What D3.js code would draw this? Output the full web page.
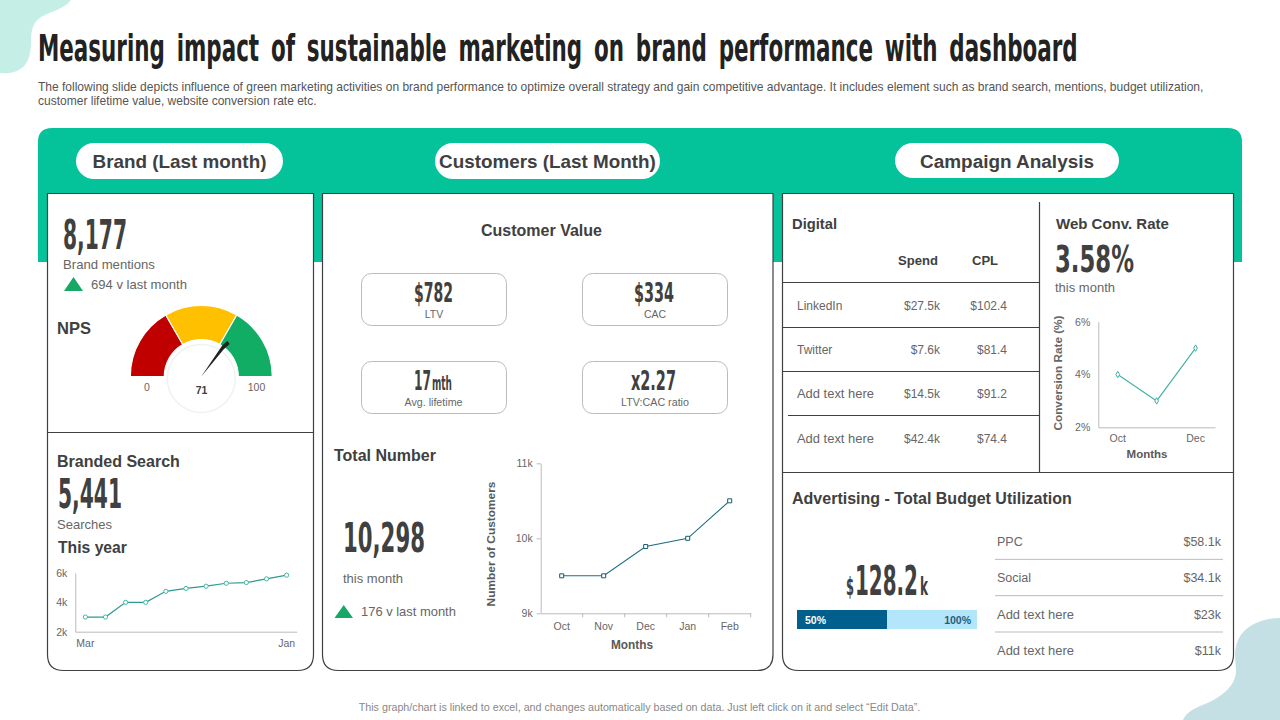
<!doctype html>
<html>
<head>
<meta charset="UTF-8">
<title>Sustainable marketing dashboard</title>
<script src="https://d3js.org/d3.v7.min.js"></script>
<style>
body { margin: 0; background: #fff; }
svg { display: block; }
text { font-family: "Liberation Sans", Arial, sans-serif; }
.axis text { font-family: "Liberation Sans", Arial, sans-serif; font-size: 10.5px; fill: #666; }
.axis path { stroke: #bbb; }
</style>
</head>
<body>
<svg id="chart" width="1280" height="720"></svg>
<script>
// chart data
var searchMonths = ["Mar","Apr","May","Jun","Jul","Aug","Sep","Oct","Nov","Dec","Jan"];
var searchValues = [3000,3000,4000,4000,4750,4950,5100,5300,5350,5600,5850];
var customerMonths = ["Oct","Nov","Dec","Jan","Feb"];
var customerValues = [9500,9500,9890,10000,10500];
var convMonths = ["Oct","Nov","Dec"];
var convValues = [4,3,5];
var gaugeBands = [1,1,1];
var gaugeColors = ["#c00000","#ffc000","#12ad65"];
var npsValue = 71;
var digitalChannels = ["LinkedIn","Twitter","Add text here","Add text here"];
var digitalSpend = ["$27.5k","$7.6k","$14.5k","$42.4k"];
var digitalCpl = ["$102.4","$81.4","$91.2","$74.4"];
var budgetChannels = ["PPC","Social","Add text here","Add text here"];
var budgetSpend = ["$58.1k","$34.1k","$23k","$11k"];
var budgetUsed = 50;
var budgetTotal = 100;

var svg = d3.select("#chart");
var NARROW = '"Liberation Sans Narrow","DejaVu Sans Condensed","Liberation Sans",sans-serif';
var DARK = "#404040", GREY = "#666";

// text helper, len squeezes the string to the width measured on the reference
function txt(x, y, s, o) {
    o = o || {};
    var t = svg.append("text")
        .attr("font-size", o.size || 12)
        .attr("font-weight", o.bold ? "bold" : "normal")
        .attr("fill", o.color || GREY)
        .attr("text-anchor", o.anchor || "start")
        .text(s);
    if (o.narrow) t.style("font-family", NARROW);
    if (o.words) t.style("word-spacing", o.words + "px");
    var tf = "translate(" + x + "," + y + ")";
    if (o.rotate) tf += " rotate(" + o.rotate + ")";
    if (o.len) tf += " scale(" + (o.len / t.node().getComputedTextLength()) + ",1)";
    t.attr("transform", tf);
    return t;
}
function big(x, y, s, len, size, anchor) {
    return txt(x, y, s, {size: size || 40, bold: true, narrow: true, color: DARK, len: len, anchor: anchor});
}
function head(x, y, s, len, size) {
    return txt(x, y, s, {size: size || 16, bold: true, color: DARK, len: len});
}

// background blobs
svg.append("path").attr("fill", "#c5efe6")
    .attr("d", "M0,0 L71,0 C66,8 50,12 41,17 C32,23 31,32 31,42 C31,55 28,68 14,72 C8,74 3,73 0,73 Z");
svg.append("path").attr("fill", "#c5e0e4")
    .attr("d", "M1280,618 C1262,618 1244,626 1238,640 C1233,652 1236,662 1236,672 C1235,686 1222,697 1205,704 C1195,708 1186,712 1183,720 L1280,720 Z");

// title and intro
txt(38, 61, "Measuring impact of sustainable marketing on brand performance with dashboard",
    {size: 38, bold: true, narrow: true, color: "#222", len: 1040, words: 7});
txt(38, 91, "The following slide depicts influence of green marketing activities on brand performance to optimize overall strategy and gain competitive advantage. It includes element such as brand search, mentions, budget utilization,",
    {size: 12, color: "#555", len: 1166});
txt(38, 105, "customer lifetime value, website conversion rate etc.", {size: 12, color: "#555", len: 279});

// green band
svg.append("path").attr("fill", "#04c29a")
    .attr("d", "M38,262 L38,142 Q38,128 52,128 L1228,128 Q1242,128 1242,142 L1242,262 Z");

// pills
var pills = [
    {x: 76, w: 207, h: 36, label: "Brand (Last month)", len: 174},
    {x: 435, w: 225, h: 36, label: "Customers (Last Month)", len: 217},
    {x: 895, w: 224, h: 35, label: "Campaign Analysis", len: 174}
];
pills.forEach(function(p) {
    svg.append("rect").attr("x", p.x).attr("y", 143).attr("width", p.w).attr("height", p.h)
        .attr("rx", 18).attr("fill", "#fff");
    txt(p.x + p.w / 2, 167.5, p.label, {size: 18, bold: true, color: DARK, anchor: "middle", len: p.len});
});

// panels, square on top and rounded below
function panel(x0, x1) {
    var y0 = 193.5, y1 = 670.5, r = 16;
    svg.append("path").attr("fill", "#fff").attr("stroke", DARK).attr("stroke-width", 1.2)
        .attr("d", "M" + x0 + "," + y0 + " L" + x1 + "," + y0 + " L" + x1 + "," + (y1 - r)
            + " Q" + x1 + "," + y1 + " " + (x1 - r) + "," + y1 + " L" + (x0 + r) + "," + y1
            + " Q" + x0 + "," + y1 + " " + x0 + "," + (y1 - r) + " Z");
}
panel(47.5, 313.5);
panel(322.5, 773);
panel(782.5, 1233.5);

function rule(x1, y1, x2, y2, color) {
    svg.append("line").attr("x1", x1).attr("y1", y1).attr("x2", x2).attr("y2", y2)
        .attr("stroke", color || DARK).attr("stroke-width", color ? 1 : 1.2);
}
function triangle(x0, x1, y0, y1) {
    svg.append("path").attr("fill", "#17a865")
        .attr("d", d3.line()([[x0, y1], [(x0 + x1) / 2, y0], [x1, y1]]) + "Z");
}
rule(47.5, 432.5, 313.5, 432.5);

// brand mentions
big(63, 249, "8,177", 64);
txt(63, 269, "Brand mentions", {size: 12.5, len: 92});
triangle(64, 83, 277, 291);
txt(91, 289, "694 v last month", {size: 12, len: 96});

// NPS gauge
head(57, 334, "NPS", 34);
var gaugeX = 201.3, gaugeY = 376.5;
var gaugeArc = d3.arc().innerRadius(37).outerRadius(71);
var pie = d3.pie().sort(null).startAngle(-Math.PI / 2).endAngle(Math.PI / 2);
var gauge = svg.append("g").attr("transform", "translate(" + gaugeX + "," + gaugeY + ")");
gauge.selectAll("path").data(pie(gaugeBands)).enter().append("path")
    .attr("d", gaugeArc)
    .attr("fill", function(d, i) { return gaugeColors[i]; })
    .attr("stroke", "#fff").attr("stroke-width", 1.2);
gauge.append("circle").attr("cy", 2).attr("r", 34).attr("fill", "#fff")
    .attr("stroke", "#f1f1f1").attr("stroke-width", 1.5);
var needleAngle = d3.scaleLinear().domain([0, 100]).range([-90, 90]);
gauge.append("path").attr("fill", "#222")
    .attr("transform", "rotate(" + needleAngle(npsValue) + ")")
    .attr("d", "M0,0 L-2.6,-38 L-1,-44 L2.6,-43 L1,-35 Z");
txt(147, 391, "0", {size: 10.5, anchor: "middle"});
txt(256.5, 391, "100", {size: 10.5, anchor: "middle"});
txt(201.5, 394, "71", {size: 10.5, bold: true, color: DARK, anchor: "middle"});

// branded search
head(57, 466.5, "Branded Search", 123);
big(58, 508, "5,441", 64);
txt(57, 528.5, "Searches", {size: 12.5, len: 55});
head(58, 553, "This year", 69);

var sx = d3.scaleBand().domain(searchMonths).range([75.3, 296.7]);
var sy = d3.scaleLinear().domain([2000, 6000]).range([631.7, 573]);
var kFormat = function(d) { return d / 1000 + "k"; };
svg.append("g").attr("class", "axis").attr("transform", "translate(0,631.7)")
    .call(d3.axisBottom(sx).tickValues(["Mar", "Jan"]).tickSize(0).tickPadding(8));
svg.append("g").attr("class", "axis").attr("transform", "translate(75.3,0)")
    .call(d3.axisLeft(sy).tickValues([2000, 4000, 6000]).tickFormat(kFormat).tickSize(0).tickPadding(8));
var searchLine = d3.line().x(function(d, i) { return sx(searchMonths[i]) + sx.bandwidth() / 2; }).y(function(d) { return sy(d); });
svg.append("path").datum(searchValues).attr("fill", "none").attr("stroke", "#2f9a90").attr("stroke-width", 1.2).attr("d", searchLine);
svg.selectAll(".searchDot").data(searchValues).enter().append("circle")
    .attr("class", "searchDot")
    .attr("cx", function(d, i) { return sx(searchMonths[i]) + sx.bandwidth() / 2; })
    .attr("cy", function(d) { return sy(d); })
    .attr("r", 2.1).attr("fill", "#fff").attr("stroke", "#45b8a5").attr("stroke-width", 1);

// customer value boxes
txt(541.5, 235.5, "Customer Value", {size: 16, bold: true, color: DARK, anchor: "middle", len: 121});
function kpiBox(x, y) {
    svg.append("rect").attr("x", x).attr("y", y).attr("width", 145).attr("height", 52)
        .attr("rx", 10).attr("fill", "#fff").attr("stroke", "#bbb");
}
kpiBox(361.5, 273.5); kpiBox(582.5, 273.5); kpiBox(361.5, 361.5); kpiBox(582.5, 361.5);
big(414, 301.5, "$782", 39, 27);
txt(434, 318, "LTV", {size: 10.5, anchor: "middle"});
big(634, 301.5, "$334", 40, 27);
txt(655, 318, "CAC", {size: 10.5, anchor: "middle"});
big(414, 389.5, "17", 17, 27);
big(432, 389.5, "mth", 20, 19);
txt(433.5, 406, "Avg. lifetime", {size: 10.5, anchor: "middle", len: 58});
big(631, 389.5, "x2.27", 45, 27);
txt(655, 406, "LTV:CAC ratio", {size: 10.5, anchor: "middle", len: 68});

// total number
head(334, 460.5, "Total Number", 102);
big(343, 551.5, "10,298", 82);
txt(343, 582.5, "this month", {size: 12.5, len: 60});
triangle(334.5, 353, 605, 618);
txt(361, 616, "176 v last month", {size: 12, len: 95});

var cx = d3.scaleBand().domain(customerMonths).range([540.7, 750.7]);
var cy = d3.scaleLinear().domain([9000, 11000]).range([613.3, 463.3]);
svg.append("g").attr("class", "axis").attr("transform", "translate(0,613.3)")
    .call(d3.axisBottom(cx).tickSize(0).tickPadding(9))
    .selectAll(".tick").append("line")
    .attr("x1", cx.step() / 2).attr("x2", cx.step() / 2).attr("y2", 4).attr("stroke", "#bbb");
svg.append("g").attr("class", "axis").attr("transform", "translate(540.7,0)")
    .call(d3.axisLeft(cy).tickValues([9000, 10000, 11000]).tickFormat(kFormat).tickSize(4).tickSizeOuter(0).tickPadding(4))
    .selectAll("line").attr("stroke", "#bbb");
var customerLine = d3.line().x(function(d, i) { return cx(customerMonths[i]) + cx.bandwidth() / 2; }).y(function(d) { return cy(d); });
svg.append("path").datum(customerValues).attr("fill", "none").attr("stroke", "#1e6d80").attr("stroke-width", 1.1).attr("d", customerLine);
svg.selectAll(".customerDot").data(customerValues).enter().append("path")
    .attr("class", "customerDot")
    .attr("d", d3.symbol(d3.symbolSquare, 16))
    .attr("transform", function(d, i) { return "translate(" + (cx(customerMonths[i]) + cx.bandwidth() / 2) + "," + cy(d) + ")"; })
    .attr("fill", "#fff").attr("stroke", "#145a6e").attr("stroke-width", 1);
txt(632, 648.5, "Months", {size: 12, bold: true, color: "#595959", anchor: "middle", len: 42});
txt(495, 544, "Number of Customers", {size: 11, bold: true, color: "#595959", anchor: "middle", len: 125, rotate: -90});

// digital table
head(792, 228.5, "Digital", 45, 14.5);
txt(918, 265, "Spend", {size: 13, bold: true, color: DARK, anchor: "middle", len: 40});
txt(985, 265, "CPL", {size: 13, bold: true, color: DARK, anchor: "middle", len: 26});
[282.5, 327.5, 371.5].forEach(function(y) { rule(782.5, y, 1040, y); });
rule(788, 415.5, 1040, 415.5);
rule(1039.5, 202, 1039.5, 472.5);
rule(782.5, 472.5, 1233.5, 472.5);
var rowY = d3.scalePoint().domain(d3.range(digitalChannels.length)).range([310, 442.5]);
digitalChannels.forEach(function(name, i) {
    txt(797, rowY(i), name, {size: 12, len: name == "Add text here" ? 77 : undefined});
    txt(940, rowY(i), digitalSpend[i], {size: 12, anchor: "end"});
    txt(1007, rowY(i), digitalCpl[i], {size: 12, anchor: "end"});
});

// web conversion rate
head(1056, 228.5, "Web Conv. Rate", 113, 14.5);
big(1055, 271.5, "3.58%", 79, 38);
txt(1055, 292, "this month", {size: 12.5, len: 60});
var rx = d3.scaleBand().domain(convMonths).range([1098.3, 1215]);
var ry = d3.scaleLinear().domain([2, 6]).range([427.3, 321.7]);
svg.append("g").attr("class", "axis").attr("transform", "translate(0,427.3)")
    .call(d3.axisBottom(rx).tickValues(["Oct", "Dec"]).tickSize(0).tickPadding(7));
svg.append("g").attr("class", "axis").attr("transform", "translate(1098.3,0)")
    .call(d3.axisLeft(ry).tickValues([2, 4, 6]).tickFormat(function(d) { return d + "%"; }).tickSize(0).tickPadding(8));
var convLine = d3.line().x(function(d, i) { return rx(convMonths[i]) + rx.bandwidth() / 2; }).y(function(d) { return ry(d); });
svg.append("path").datum(convValues).attr("fill", "none").attr("stroke", "#3fb0a3").attr("stroke-width", 1.1).attr("d", convLine);
svg.selectAll(".convDot").data(convValues).enter().append("path")
    .attr("class", "convDot")
    .attr("d", d3.symbol(d3.symbolDiamond, 12))
    .attr("transform", function(d, i) { return "translate(" + (rx(convMonths[i]) + rx.bandwidth() / 2) + "," + ry(d) + ")"; })
    .attr("fill", "#fff").attr("stroke", "#3fb0a3").attr("stroke-width", 1);
txt(1147, 458, "Months", {size: 11.5, bold: true, color: "#595959", anchor: "middle", len: 41});
txt(1062, 373, "Conversion Rate (%)", {size: 11.5, bold: true, color: "#666", anchor: "middle", len: 115, rotate: -90});

// budget
head(792, 504, "Advertising - Total Budget Utilization", 280);
big(846, 595, "$", 8, 24);
big(855, 595, "128.2", 63, 40);
big(920, 595, "k", 8, 24);
var bx = d3.scaleLinear().domain([0, budgetTotal]).range([797, 977]);
svg.append("rect").attr("x", bx(0)).attr("y", 610).attr("width", bx(budgetTotal) - bx(0)).attr("height", 19).attr("fill", "#b3e5fb");
svg.append("rect").attr("x", bx(0)).attr("y", 610).attr("width", bx(budgetUsed) - bx(0)).attr("height", 19).attr("fill", "#005f8c");
txt(805, 623.5, budgetUsed + "%", {size: 10.5, bold: true, color: "#fff"});
txt(971, 623.5, budgetTotal + "%", {size: 10.5, bold: true, color: "#1f5f7a", anchor: "end"});
var budgetY = d3.scalePoint().domain(d3.range(budgetChannels.length)).range([546, 655]);
budgetChannels.forEach(function(name, i) {
    txt(997, budgetY(i), name, {size: 12.5, len: name == "Add text here" ? 77 : undefined});
    txt(1221, budgetY(i), budgetSpend[i], {size: 12.5, anchor: "end"});
    if (i > 0) rule(995, budgetY(i) - 23, 1223, budgetY(i) - 23, "#bbb");
});

// footer
txt(639.5, 711, "This graph/chart is linked to excel, and changes automatically based on data. Just left click on it and select \u201cEdit Data\u201d.",
    {size: 10, color: "#888", anchor: "middle", len: 562});
</script>
</body>
</html>
